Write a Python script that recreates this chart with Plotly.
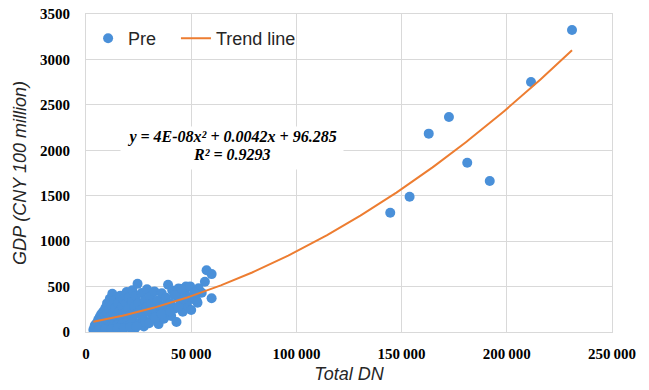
import numpy as np
import plotly.graph_objects as go

# Total DN (x) and GDP in CNY 100 million (y)
cluster_dn = [3500, 4000, 4200, 4500, 5000, 5000, 5500, 5800, 6000, 6200, 6500, 6800, 7000, 7200,
              7500, 7800, 8000, 8200, 8500, 8800, 9000, 9200, 9500, 9800, 10000, 10200, 10500,
              10800, 11000, 11300, 11500, 11800, 12000, 12200, 12500, 12800, 13000, 13200, 13500,
              13800, 14000, 14500, 15000, 15300, 15700, 16000, 16300, 16800, 17000, 17500, 17800,
              18000, 18500, 19000, 19300, 19800, 20000, 20500, 21000, 21300, 21800, 22000, 22500,
              23000, 23300, 23800, 24000, 24500, 25000, 25500, 26000, 26500, 27000, 27500, 28000,
              28500, 29000, 29500, 30000, 30500, 31000, 32000, 32500, 33000, 34000, 34500, 35000,
              36000, 36500, 37000, 38000, 38500, 39000, 40000, 40500, 41000, 42000, 43000, 43500,
              44000, 45000, 46000, 47000, 47500, 48000, 49000, 50000, 51000, 52500, 53000, 55000,
              56500, 57300, 59700, 59700, 26000, 28000, 30000, 33000, 36000, 40000, 44000, 48000,
              52000, 6000, 9000, 12000, 15000, 18000, 21000, 24000, 42000, 45500, 49500, 53500,
              51500, 46500]
cluster_gdp = [25, 45, 75, 30, 95, 55, 20, 135, 70, 40, 165, 105, 25, 195,
               75, 145, 50, 225, 115, 35, 175, 265, 85, 55, 315, 205, 135,
               30, 245, 365, 95, 175, 60, 295, 420, 135, 215, 45, 345,
               105, 265, 175, 80, 320, 230, 40, 400, 150, 280, 90, 360,
               200, 50, 310, 440, 130, 250, 380, 80, 190, 330, 460, 120,
               280, 40, 400, 200, 530, 320, 100, 240, 430, 160, 60, 350,
               270, 470, 110, 217, 387, 307, 157, 447, 247, 347, 87, 197,
               427, 287, 147, 377, 217, 520, 317, 177, 457, 257, 110, 387,
               480, 332, 222, 452, 500, 292, 382, 242, 362, 350, 322, 432,
               553, 680, 637, 371, 80, 110, 97, 157, 197, 227, 282, 342,
               362, 20, 25, 30, 40, 45, 50, 60, 407, 472, 502, 482,
               432, 362]
outlier_dn = [144600, 153800, 162900, 172500, 181200, 191900, 211500, 231000]
outlier_gdp = [1313, 1489, 2183, 2366, 1863, 1662, 2751, 3324]

x_ticks = [0, 50000, 100000, 150000, 200000, 250000]
y_ticks = [0, 500, 1000, 1500, 2000, 2500, 3000, 3500]
equation_text = "y = 4E-08x² + 0.0042x + 96.285"
r2_text = "R² = 0.9293"

dn = np.array(cluster_dn + outlier_dn, dtype=float)
gdp = np.array(cluster_gdp + outlier_gdp, dtype=float)

# quadratic trend line fitted to the points (as the spreadsheet did)
coef = np.polyfit(dn, gdp, 2)
trend_x = np.linspace(dn.min(), dn.max(), 200)
trend_y = np.polyval(coef, trend_x)

fig = go.Figure()
fig.add_trace(go.Scatter(
    x=dn, y=gdp, mode="markers", name="Pre", legend="legend",
    marker=dict(color="#4a90d9", size=10, line=dict(width=0)),
))
fig.add_trace(go.Scatter(
    x=trend_x, y=trend_y, mode="lines", name="Trend line", legend="legend2",
    line=dict(color="#ed7d31", width=2),
))

tick_font = dict(family="Liberation Serif", size=15, color="black", weight="bold")
title_font = dict(family="Liberation Sans", size=18, color="#262626", style="italic")
legend_font = dict(family="Liberation Sans", size=18, color="#262626")

fig.update_layout(
    width=649, height=390,
    margin=dict(l=86, r=37, t=14, b=58, autoexpand=False),
    paper_bgcolor="white", plot_bgcolor="white",
    separators=".\u2009",
    showlegend=True,
    legend=dict(orientation="h", x=0.004, y=0.981, xanchor="left", yanchor="top",
                bgcolor="rgba(0,0,0,0)", font=legend_font),
    legend2=dict(orientation="h", x=0.171, y=0.981, xanchor="left", yanchor="top",
                 bgcolor="rgba(0,0,0,0)", font=legend_font),
    xaxis=dict(
        range=[0, 250000], tickvals=x_ticks, tickformat=",", tickfont=tick_font,
        showgrid=True, gridcolor="#d9d9d9", gridwidth=1, zeroline=False,
        showline=True, linecolor="#d9d9d9", linewidth=1, mirror=True,
        ticks="", ticklabelstandoff=8, automargin=False,
        title=dict(text="Total DN", font=title_font, standoff=6),
    ),
    yaxis=dict(
        range=[0, 3500], tickvals=y_ticks, tickformat="d", tickfont=tick_font,
        showgrid=True, gridcolor="#d9d9d9", gridwidth=1, zeroline=False,
        showline=True, linecolor="#d9d9d9", linewidth=1, mirror=True,
        ticks="", ticklabelstandoff=12, automargin=False,
        title=dict(text="GDP (CNY 100 million)", font=title_font, standoff=8),
    ),
)

eq_font = dict(family="Liberation Serif", size=16, color="black", weight="bold", style="italic")
fig.add_annotation(
    xref="paper", yref="paper", x=0.2776, y=0.5786, text=equation_text,
    showarrow=False, font=eq_font, bgcolor="white", width=220, height=40, valign="top",
    xanchor="center", yanchor="middle",
)
fig.add_annotation(
    xref="paper", yref="paper", x=0.2776, y=0.5580, text=r2_text,
    showarrow=False, font=eq_font, xanchor="center", yanchor="middle",
)

fig.write_html("out.html", post_script="document.body.style.margin='0';",
               config={"displayModeBar": False})
